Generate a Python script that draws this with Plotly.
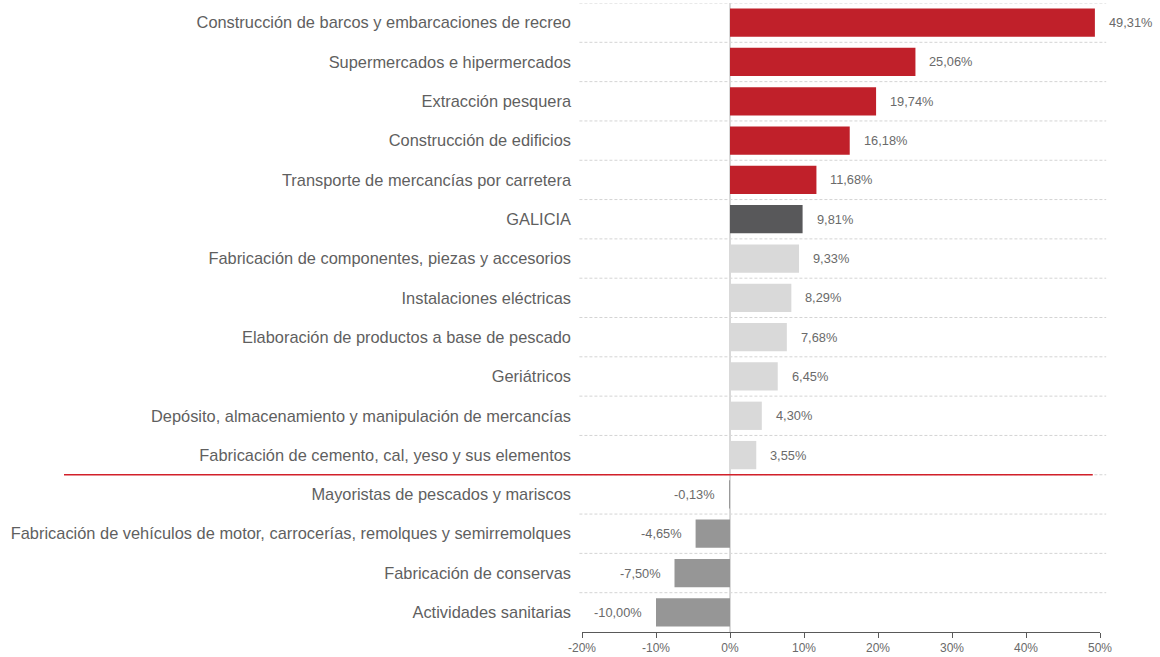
import plotly.graph_objects as go

categories = [
    "Construcción de barcos y embarcaciones de recreo",
    "Supermercados e hipermercados",
    "Extracción pesquera",
    "Construcción de edificios",
    "Transporte de mercancías por carretera",
    "GALICIA",
    "Fabricación de componentes, piezas y accesorios",
    "Instalaciones eléctricas",
    "Elaboración de productos a base de pescado",
    "Geriátricos",
    "Depósito, almacenamiento y manipulación de mercancías",
    "Fabricación de cemento, cal, yeso y sus elementos",
    "Mayoristas de pescados y mariscos",
    "Fabricación de vehículos de motor, carrocerías, remolques y semirremolques",
    "Fabricación de conservas",
    "Actividades sanitarias",
]
values = [49.31, 25.06, 19.74, 16.18, 11.68, 9.81, 9.33, 8.29, 7.68, 6.45, 4.30, 3.55,
          -0.13, -4.65, -7.50, -10.00]
groups = ["top"] * 5 + ["galicia"] + ["mid"] * 6 + ["neg"] * 4
tick_vals = [-20, -10, 0, 10, 20, 30, 40, 50]
tick_text = ["-20%", "-10%", "0%", "10%", "20%", "30%", "40%", "50%"]

color_map = {"top": "#C0202A", "galicia": "#58585A", "mid": "#D9D9D9", "neg": "#969696"}
colors = [color_map[g] for g in groups]

def fmt(v):
    return f"{v:.2f}".replace(".", ",") + "%"

FONT = "Liberation Sans, Arial, sans-serif"

fig = go.Figure()
fig.add_trace(go.Bar(
    x=values, y=list(range(len(categories))), orientation="h",
    marker=dict(color=colors, line=dict(width=0)), width=0.72,
    hoverinfo="skip",
))

# value labels
for i, v in enumerate(values):
    fig.add_annotation(
        x=v, y=i, xref="x", yref="y", text=fmt(v), showarrow=False,
        xanchor="left" if v >= 0 else "right",
        xshift=12 if v >= 0 else -12,
        font=dict(family=FONT, size=12.8, color="#6a6a6a"),
    )

# dashed separators between categories
shapes = []
for i in range(len(categories)):
    shapes.append(dict(
        type="line", xref="paper", yref="y", x0=-0.005, x1=1.012, y0=i - 0.5, y1=i - 0.5,
        line=dict(color="#D4D4D4", width=1, dash="3px,2px"), layer="below",
    ))
# red separator between positive and negative groups
split = groups.index("neg") - 0.5
shapes.append(dict(
    type="line", xref="paper", yref="y", x0=-1.0, x1=0.986, y0=split, y1=split,
    line=dict(color="#D2202A", width=1.5), layer="above",
))

fig.update_layout(
    width=1160, height=657,
    margin=dict(l=582, r=60, t=3, b=25),
    paper_bgcolor="white", plot_bgcolor="white",
    showlegend=False,
    shapes=shapes,
    font=dict(family=FONT, color="#5f5f5f"),
    xaxis=dict(
        range=[-20, 50], tickvals=tick_vals, ticktext=tick_text,
        showgrid=False, zeroline=True, zerolinecolor="#D9D9D9", zerolinewidth=2,
        showline=True, linecolor="#595959", linewidth=1,
        ticks="outside", ticklen=5, tickcolor="#595959",
        tickfont=dict(size=12, color="#6a6a6a"),
    ),
    yaxis=dict(
        tickvals=list(range(len(categories))), ticktext=categories,
        range=[len(categories) - 0.5, -0.5],
        showgrid=False, zeroline=False, showline=False, ticks="",
        tickfont=dict(size=16.4, color="#5f5f5f"),
        ticklabelstandoff=10,
    ),
)

fig.write_html(
    "out.html",
    config={"displayModeBar": False, "staticPlot": True},
    post_script="document.body.style.margin='0';document.body.style.overflow='hidden';",
)
